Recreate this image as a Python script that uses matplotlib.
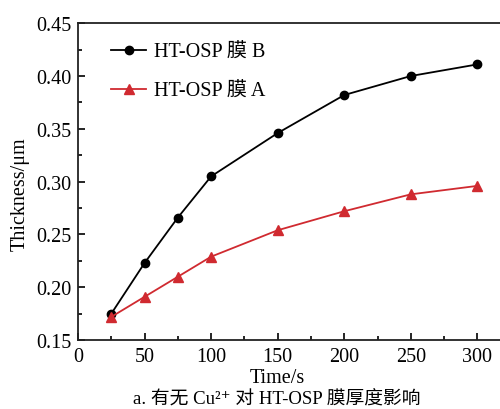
import matplotlib
matplotlib.use("Agg")
import matplotlib.pyplot as plt
from matplotlib.ticker import MultipleLocator

plt.rcParams['font.family'] = ['Liberation Serif', 'Noto Sans CJK SC', 'DejaVu Sans']

# data
time_s = [25, 50, 75, 100, 150, 200, 250, 300]
film_b = [0.175, 0.223, 0.266, 0.305, 0.346, 0.382, 0.400, 0.411]
film_a = [0.172, 0.191, 0.210, 0.229, 0.254, 0.272, 0.288, 0.296]
label_b = "HT-OSP 膜 B"
label_a = "HT-OSP 膜 A"
caption = "a. 有无 Cu²⁺ 对 HT-OSP 膜厚度影响"

red = "#d02a30"

fig = plt.figure(figsize=(5.0, 4.1), dpi=100)
# right edge runs past the image, as in the reference
ax = fig.add_axes([0.156, 0.168, 0.852, 0.773])

ax.plot(time_s, film_b, '-o', color='black', lw=1.3, ms=6, label=label_b)
ax.plot(time_s, film_a, '-^', color=red, lw=1.3, ms=7, label=label_a)

ax.set_xlim(0, 320)
ax.set_ylim(0.15, 0.45)
ax.xaxis.set_major_locator(MultipleLocator(50))
ax.xaxis.set_minor_locator(MultipleLocator(25))
ax.yaxis.set_major_locator(MultipleLocator(0.05))
ax.yaxis.set_minor_locator(MultipleLocator(0.025))
ax.yaxis.set_major_formatter(plt.FuncFormatter(lambda v, _: f"{v:.2f}"))
ax.tick_params(which='both', direction='in', top=False, right=False,
               labelsize=14.5, width=1.2, pad=5)
ax.tick_params(which='major', length=5)
ax.tick_params(which='minor', length=3)
for s in ax.spines.values():
    s.set_linewidth(1.3)
    s.set_color('#222222')

ax.legend(loc='upper left', bbox_to_anchor=(0.035, 0.995), frameon=False,
          fontsize=14.5, handlelength=1.75, labelspacing=1.0,
          handletextpad=0.4)

fig.text(0.04, 0.527, "Thickness/μm", rotation=90, ha='center', va='center',
         fontsize=14.5)
fig.text(0.554, 0.078, "Time/s", ha='center', va='center', fontsize=14.5)
fig.text(0.554, 0.025, caption, ha='center', va='center', fontsize=13.5)

fig.savefig("out.png", dpi=100)
